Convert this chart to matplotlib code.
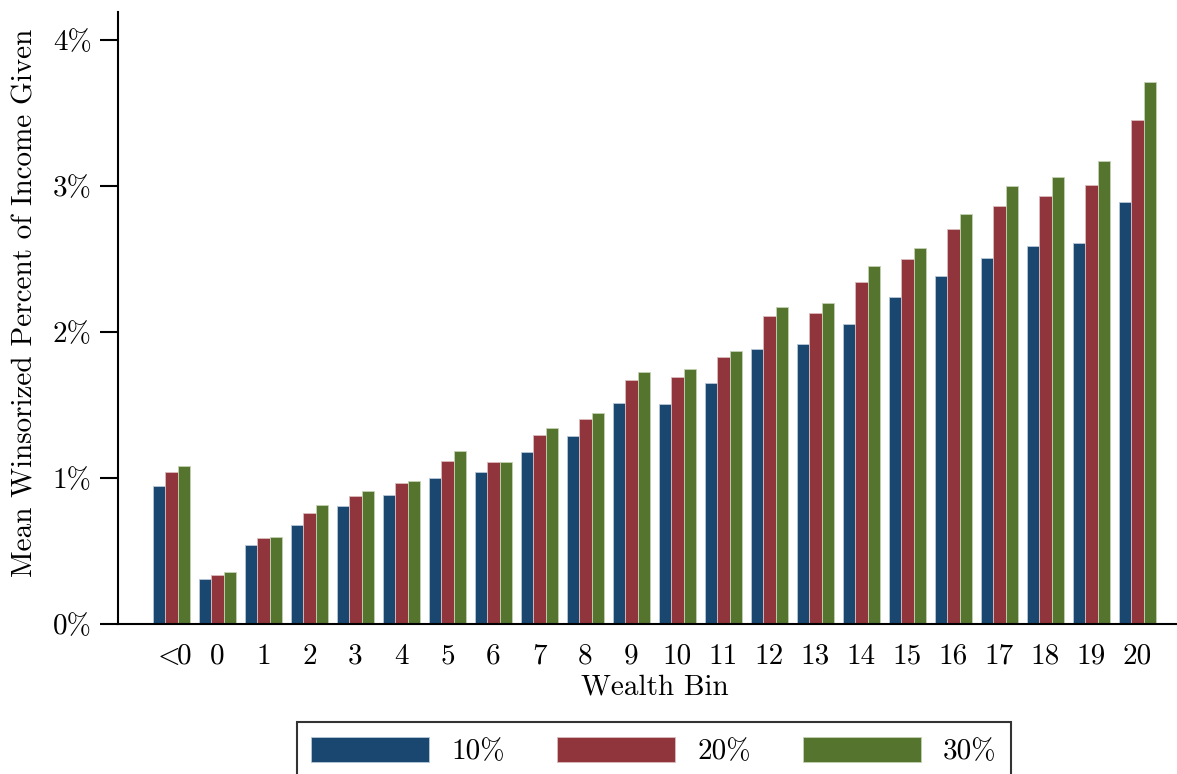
import matplotlib
matplotlib.use("Agg")
import matplotlib.pyplot as plt
import numpy as np

plt.rcParams["font.family"] = "serif"
plt.rcParams["font.serif"] = ["cmr10"]
plt.rcParams["mathtext.fontset"] = "cm"
plt.rcParams["axes.formatter.use_mathtext"] = True

# wealth bins and mean winsorized percent of income given (in %)
bins = [r"$<\!\!$0", "0", "1", "2", "3", "4", "5", "6", "7", "8", "9", "10",
        "11", "12", "13", "14", "15", "16", "17", "18", "19", "20"]
pct_10 = [0.945, 0.31, 0.54, 0.68, 0.81, 0.884, 1.00, 1.04, 1.178, 1.288, 1.514,
          1.507, 1.65, 1.884, 1.918, 2.055, 2.24, 2.38, 2.505, 2.589, 2.607, 2.888]
pct_20 = [1.04, 0.335, 0.59, 0.76, 0.877, 0.966, 1.116, 1.11, 1.295, 1.404, 1.67,
          1.69, 1.83, 2.11, 2.13, 2.34, 2.50, 2.705, 2.863, 2.929, 3.005, 3.45]
pct_30 = [1.08, 0.356, 0.596, 0.815, 0.91, 0.98, 1.185, 1.11, 1.342, 1.445, 1.726,
          1.747, 1.87, 2.17, 2.20, 2.45, 2.575, 2.808, 2.998, 3.059, 3.169, 3.71]
series_labels = ["10%", "20%", "30%"]
colors = ["#1a476f", "#90353b", "#55752f"]
edges = ["#b8c8d8", "#dcbcbe", "#c4d2b4"]

FS = 21

fig = plt.figure(figsize=(11.77, 7.74), dpi=100)
ax = fig.add_axes([118 / 1177, 150 / 774, 1059 / 1177, 612 / 774])

x = np.arange(len(bins))
w = 0.272
handles = []
for i, (vals, lab) in enumerate(zip([pct_10, pct_20, pct_30], series_labels)):
    h = ax.bar(x + (i - 1) * w, vals, width=w, color=colors[i],
               edgecolor=edges[i], linewidth=0.6, label=lab, zorder=2)
    handles.append(h)

ax.set_xlim(-1.163, 21.86)
ax.set_ylim(0, 4.19)
ax.set_xticks(x)
ax.set_xticklabels(bins, fontsize=FS)
ax.set_yticks([0, 1, 2, 3, 4])
ax.set_yticklabels(["0%", "1%", "2%", "3%", "4%"], fontsize=FS)
ax.tick_params(axis="x", length=0, pad=14)
ax.tick_params(axis="y", length=13, width=1.5, pad=6, direction="out")

for s in ["top", "right"]:
    ax.spines[s].set_visible(False)
ax.spines["left"].set_linewidth(1.5)
ax.spines["bottom"].set_linewidth(1.5)
ax.spines["bottom"].set_zorder(3)

ax.set_xlabel("Wealth Bin", fontsize=FS)
ax.xaxis.set_label_coords((655 - 118) / 1059, (624 - 674) / 612)
ax.set_ylabel("Mean Winsorized Percent of Income Given", fontsize=FS)
ax.yaxis.set_label_coords((25 - 118) / 1059, (624 - 303) / 612)
ax.yaxis.label.set_va("center")

leg = fig.legend(handles=handles, labels=series_labels, loc="upper center",
                 bbox_to_anchor=(654 / 1177, 52 / 774), ncol=3, fontsize=FS,
                 frameon=True, fancybox=False, edgecolor="black",
                 handlelength=4.05, handleheight=0.97, handletextpad=0.75,
                 columnspacing=1.8, borderpad=0.5, borderaxespad=0)
leg.get_frame().set_linewidth(1.5)

fig.savefig("out.png", dpi=100)
